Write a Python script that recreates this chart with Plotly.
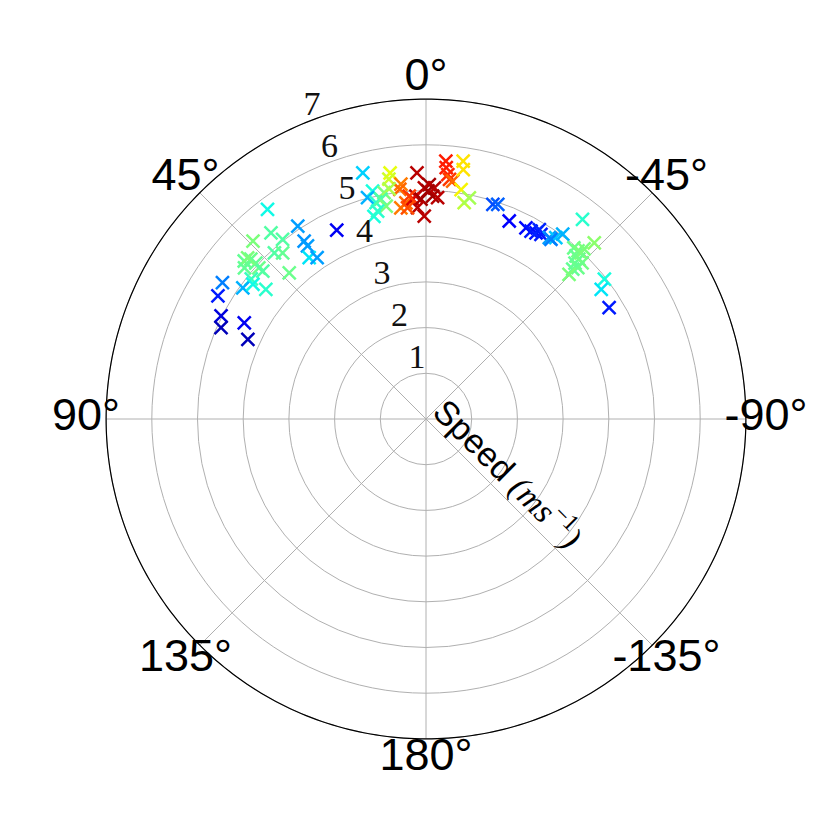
import plotly.graph_objects as go

# ---- data (angle in degrees, speed in m/s, colour value 0..1) ----
theta = [14.4, 8.3, 8.8, 6.1, 6.5, 13.2, 14.8, 10.5, 9.1, 13.0, 11.6, 10.6, 14.4, 13.1,
         6.8, 5.3, 2.1, -0.8, -2.1, 0.4, 2.6, 3.5, 1.3, -1.7, -3.0, 2.3, 0.5, 4.3, 5.0,
         -4.4, -4.6, -5.1, -5.6, -6.4, -8.2, -8.5, -8.7, -10.0, -11.1, -0.5,
         -17.3, -18.5, -22.8, -27.6, -29.2, -30.6, -30.9, -31.9, -34.2, -35.6, -36.5,
         -34.8, -38.1, -43.7,
         -40.8, -42.1, -42.6, -43.0, -43.7, -43.7, -45.0, -45.1, -42.9, -44.4,
         -44.7, -51.9, -53.5, -58.7,
         37.1, 39.8, 44.2, 38.6, 33.6, 25.3, 34.4, 34.4, 35.9, 34.0, 42.4, 40.8, 43.1,
         49.0, 47.6, 47.5, 47.9, 47.8, 47.9, 50.2, 51.3, 54.4, 51.0, 52.1, 56.2, 59.4,
         63.3, 66.0, 62.1, 65.9]
speed = [5.56, 5.44, 5.31, 5.17, 5.06, 5.12, 5.01, 5.04, 5.10, 4.86, 4.91, 4.74, 4.58, 4.67,
         4.65, 4.75, 5.39, 5.13, 5.06, 5.06, 4.88, 4.82, 4.81, 4.88, 4.85, 4.63, 4.44, 4.89, 4.64,
         5.66, 5.52, 5.37, 5.27, 5.24, 5.70, 5.52, 5.08, 4.81, 4.93, 4.99,
         4.92, 4.95, 4.70, 4.72, 4.71, 4.73, 4.83, 4.76, 4.80, 4.88, 5.03,
         4.79, 5.55, 5.33,
         4.95, 4.96, 4.85, 4.97, 4.84, 4.72, 4.83, 4.69, 5.08, 4.59,
         4.45, 4.96, 4.77, 4.69,
         5.75, 5.30, 5.43, 5.03, 5.07, 4.57, 4.72, 4.59, 4.36, 4.26, 4.92, 4.80, 4.38,
         5.27, 5.19, 5.05, 4.93, 4.82, 5.26, 5.17, 4.90, 4.93, 4.51, 4.80, 5.36, 5.29,
         5.02, 4.91, 4.50, 4.27]
colour = [0.33, 0.63, 0.60, 0.78, 0.80, 0.38, 0.30, 0.50, 0.56, 0.40, 0.45, 0.50, 0.38, 0.40,
          0.78, 0.80, 0.95, 0.97, 0.95, 0.95, 0.95, 0.92, 0.97, 0.97, 0.95, 0.95, 0.95, 0.85, 0.83,
          0.88, 0.88, 0.87, 0.85, 0.80, 0.67, 0.67, 0.65, 0.58, 0.55, 0.97,
          0.20, 0.22, 0.12, 0.13, 0.15, 0.14, 0.16, 0.15, 0.28, 0.32, 0.30,
          0.25, 0.40, 0.52,
          0.48, 0.49, 0.47, 0.50, 0.48, 0.47, 0.49, 0.48, 0.50, 0.47,
          0.50, 0.38, 0.35, 0.15,
          0.37, 0.45, 0.50, 0.45, 0.28, 0.10, 0.27, 0.28, 0.35, 0.28, 0.45, 0.47, 0.48,
          0.47, 0.48, 0.47, 0.48, 0.45, 0.50, 0.47, 0.42, 0.30, 0.40, 0.37, 0.25, 0.15,
          0.08, 0.05, 0.10, 0.05]

angle_ticks = [0, 45, 90, 135, 180, 225, 270, 315]
angle_labels = ["0°", "45°", "90°", "135°", "180°", "-135°", "-90°", "-45°"]
radial_ticks = [1, 2, 3, 4, 5, 6, 7]
radial_labels = ["1", "2", "3", "4", "5", "6", "7"]
radial_label_angle = 22.5    # radial labels run along this direction
radial_max = 7               # outer (black) rim
label_radius = 7.44          # angular labels are centred just outside the rim
radial_title = ("Speed <span style='font-family:Liberation Serif'><i>(ms</i>"
                "<sup>−1</sup><i>)</i></span>")

# matplotlib "jet" colour map
jet = [[0.0, "rgb(0,0,127)"], [0.11, "rgb(0,0,255)"], [0.125, "rgb(0,0,255)"],
       [0.34, "rgb(0,219,255)"], [0.35, "rgb(0,229,247)"], [0.375, "rgb(20,255,226)"],
       [0.64, "rgb(239,255,8)"], [0.65, "rgb(247,245,0)"], [0.66, "rgb(255,236,0)"],
       [0.89, "rgb(255,19,0)"], [0.91, "rgb(232,0,0)"], [1.0, "rgb(127,0,0)"]]

grid = "#b0b0b0"
fig = go.Figure()

# angular grid spokes (stop at the rim)
spoke_r, spoke_t = [], []
for t in angle_ticks:
    spoke_r += [0, radial_max, None]
    spoke_t += [t, t, None]
fig.add_trace(go.Scatterpolar(r=spoke_r, theta=spoke_t, mode="lines",
                              line=dict(color=grid, width=1),
                              showlegend=False, hoverinfo="skip"))
# outer black rim
rim_t = list(range(0, 361))
fig.add_trace(go.Scatterpolar(r=[radial_max] * len(rim_t), theta=rim_t, mode="lines",
                              line=dict(color="black", width=1.2),
                              showlegend=False, hoverinfo="skip"))
# data
fig.add_trace(go.Scatterpolar(
    r=speed, theta=theta, mode="markers",
    marker=dict(symbol="x-thin", size=13,
                line=dict(width=2.5, color=colour, colorscale=jet, cmin=0, cmax=1)),
    showlegend=False, hoverinfo="skip",
))
# radial tick labels (upright, beside the 22.5° direction, like matplotlib)
fig.add_trace(go.Scatterpolar(
    r=radial_ticks, theta=[radial_label_angle] * len(radial_ticks), mode="text",
    text=radial_labels, textposition="top right", cliponaxis=False,
    textfont=dict(family="Liberation Serif", size=34, color="#111"),
    showlegend=False, hoverinfo="skip",
))
# angular tick labels
fig.add_trace(go.Scatterpolar(
    r=[label_radius] * len(angle_ticks), theta=angle_ticks, mode="text",
    text=angle_labels, textposition="middle center", cliponaxis=False,
    textfont=dict(family="Liberation Sans", size=45, color="black"),
    showlegend=False, hoverinfo="skip",
))

L, R, T, B = 78, 72, 71, 79
S = 830 - L - R  # plot-area size
fig.update_layout(
    width=830, height=830,
    margin=dict(l=L, r=R, t=T, b=B),
    paper_bgcolor="white",
    polar=dict(
        bgcolor="white",
        angularaxis=dict(rotation=90, direction="counterclockwise",
                         tickmode="array", tickvals=angle_ticks,
                         showticklabels=False, ticks="", showline=False, showgrid=False),
        radialaxis=dict(range=[0, label_radius], tickmode="array", tickvals=radial_ticks,
                        angle=112.5, showticklabels=False, ticks="", showline=False,
                        gridcolor=grid, gridwidth=1),
    ),
    annotations=[dict(text=radial_title, xref="paper", yref="paper",
                      x=(501 - L) / S, y=(830 - B - 465) / S,
                      xanchor="center", yanchor="middle", textangle=45, showarrow=False,
                      font=dict(family="Liberation Sans", size=34, color="black"))],
)

fig.write_html("out.html")
